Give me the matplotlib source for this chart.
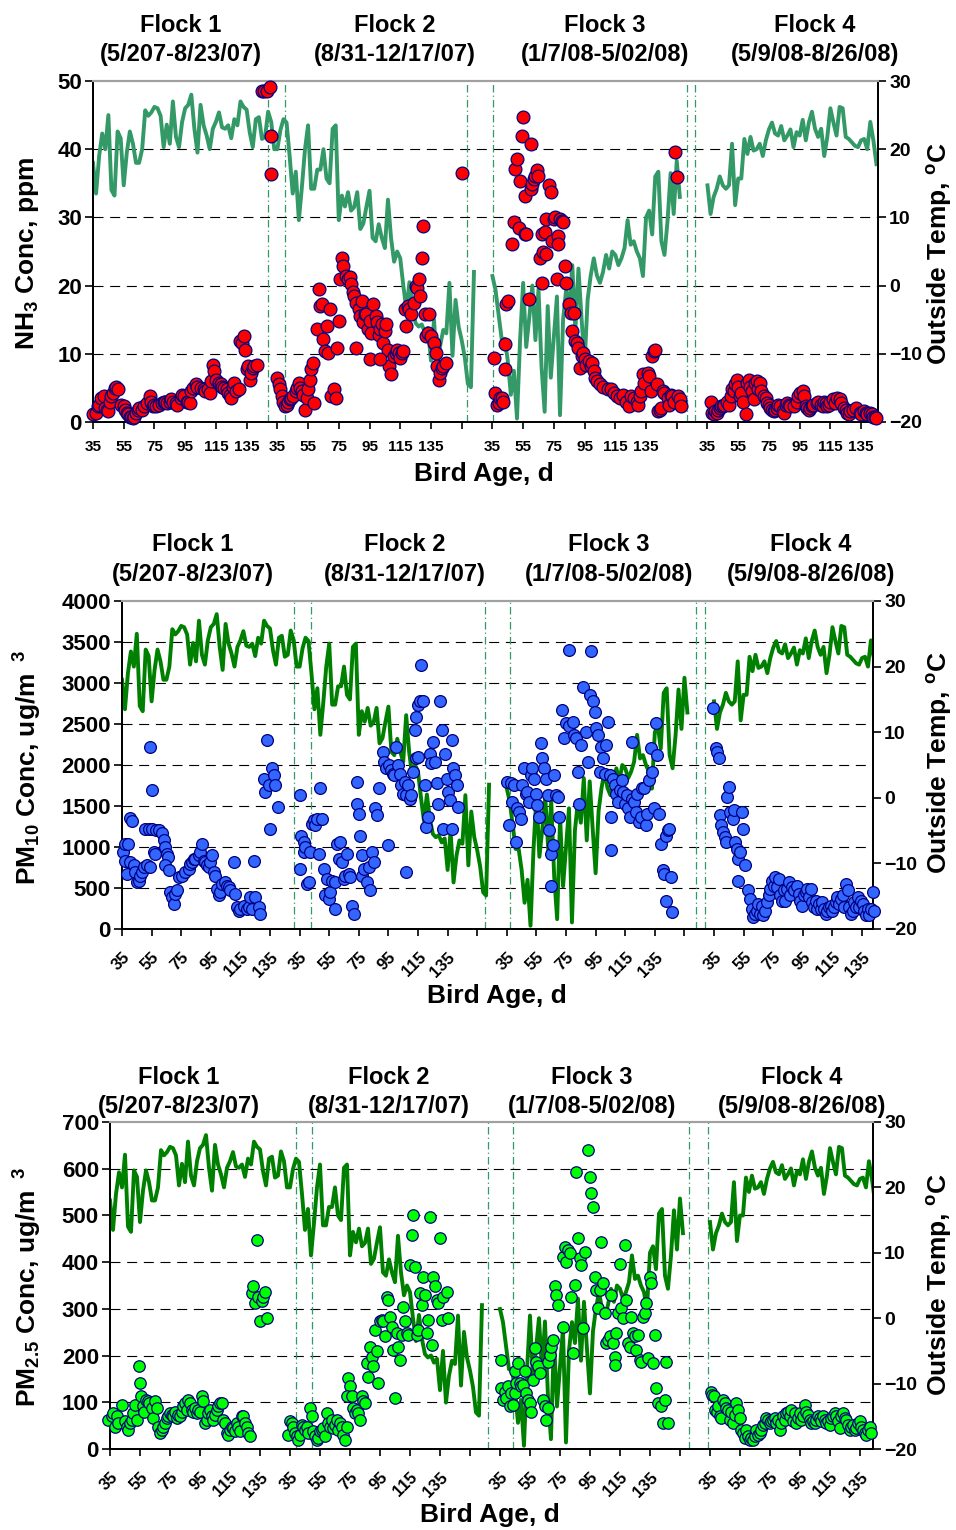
import numpy as np
import matplotlib.pyplot as plt

plt.rcParams['font.family'] = 'Liberation Sans'
plt.rcParams['font.weight'] = 'bold'
plt.rcParams['mathtext.fontset'] = 'custom'
plt.rcParams['mathtext.rm'] = 'Liberation Sans:bold'
plt.rcParams['mathtext.bf'] = 'Liberation Sans:bold'
plt.rcParams['mathtext.it'] = 'Liberation Sans:bold'

# day index of bird age 35 for each flock on the shared x axis
flock_start = [0, 120, 260, 400]
tick_ages = [35, 55, 75, 95, 115, 135]
flock_names = ['Flock 1', 'Flock 2', 'Flock 3', 'Flock 4']
flock_dates = ['(5/207-8/23/07)', '(8/31-12/17/07)', '(1/7/08-5/02/08)', '(5/9/08-8/26/08)']

# outside temperature, deg C, every 2nd day index
temp_a = [18.0, 13.5, 19.0, 22.3, 20.0, 25.0, 14.0, 13.2, 22.6, 21.6, 14.7, 19.5, 22.6, 20.8, 18.0,
          18.0, 20.0, 25.7, 24.9, 25.4, 26.2, 26.0, 24.9, 20.3, 23.6, 20.8, 27.0, 21.8, 20.3, 24.0,
          26.0, 26.5, 28.0, 23.0, 19.5, 26.5, 23.5, 22.0, 20.0, 23.0, 24.0, 25.4, 23.2, 23.0, 23.5,
          21.6, 24.4, 23.5, 27.0, 26.2, 25.8, 22.5, 20.3, 24.4, 24.7, 21.5, 21.8, 25.5, 24.0, 20.0,
          20.0, 22.8, 24.4, 23.9, 19.0, 13.5, 16.7, 9.6, 14.5, 20.0, 23.5, 14.2, 14.2, 17.0, 17.0,
          20.0, 15.7, 15.0, 23.0, 23.5, 9.6, 13.2, 11.6, 13.7, 11.0, 11.5, 13.7, 8.3, 9.1, 11.6,
          13.9, 7.0, 6.5, 9.0, 7.0, 5.5, 12.6, 7.0, 3.5, 5.0, 4.0, 0.0, -3.5, 0.5, -3.2,
          -5.5, -6.0, -5.7, -6.8, -6.2, -11.0, -5.0, -12.9, -8.8, -6.5, -7.0, 0.4, -10.3, -2.1, -6.0,
          -8.0, -10.5, -14.4, -14.9, 2.0]
temp_b = [1.4, -0.6, -4.2, -7.8, -7.8, -11.0, -16.0, -12.5, -19.5, -8.0, 0.4, -9.0, -4.7, 0.0, -8.0,
          -0.5, -12.0, -18.5, -3.0, -13.5, -7.5, -1.6, -19.0, -5.0, -0.6, -3.8, 3.0, -6.5, 2.5, -4.7,
          -11.5, -2.0, 1.5, 4.0, 1.5, 0.4, 2.0, 4.5, 2.5, 5.0, 4.5, 3.0, 4.0, 5.5, 9.6,
          6.0, 6.5, 5.0, 4.0, 1.4, 10.0, 11.0, 7.5, 16.0, 16.7, 6.5, 4.5, 9.5, 16.5, 10.5,
          18.3, 13.0]
temp_c = [14.7, 10.5, 13.0, 14.2, 16.0, 14.7, 14.2, 14.7, 20.8, 11.8, 15.7, 15.7, 21.5, 19.3, 21.8,
          19.8, 20.0, 20.8, 19.0, 21.3, 22.9, 23.9, 22.3, 22.0, 23.4, 21.3, 22.0, 22.9, 20.3, 22.5,
          22.0, 24.3, 21.3, 23.9, 25.5, 23.0, 21.8, 23.0, 19.0, 21.8, 26.0, 23.9, 22.0, 26.2, 26.0,
          21.8, 21.5, 21.0, 20.5, 20.3, 21.3, 21.5, 20.0, 24.0, 21.3, 17.8]
temp_start = [0, 260, 400]

# NH3, ppm (bird age, value) per flock
nh3_f1_age = [35, 37, 38, 39, 40, 42, 43, 44, 45, 46, 47, 48, 49, 50, 51, 53, 55, 56, 57, 58, 59, 60,
              61, 62, 63, 64, 65, 67, 68, 70, 72, 73, 74, 75, 76, 78, 80, 81, 82, 83, 85, 86, 87, 89,
              90, 92, 93, 94, 96, 97, 98, 99, 100, 102, 103, 105, 107, 108, 110, 111, 112, 113, 114,
              115, 117, 118, 119, 120, 122, 123, 124, 125, 126, 127, 128, 130, 131, 132, 133, 134,
              135, 136, 137, 138, 139, 140, 142, 145, 146, 148, 150, 151, 151]
nh3_f1 = [1.1, 1.3, 2.3, 2.5, 3.5, 3.8, 2.1, 1.8, 1.6, 3.0, 3.8, 4.3, 5.0, 5.2, 4.8, 2.5, 2.3, 1.8, 1.3,
          1.1, 0.8, 0.8, 0.6, 0.8, 1.3, 1.8, 2.1, 1.8, 2.3, 2.8, 3.8, 3.0, 2.3, 2.5, 2.3, 2.5, 2.8, 3.0,
          3.0, 2.8, 3.0, 3.3, 3.0, 2.8, 2.5, 3.5, 4.0, 3.8, 3.0, 3.0, 2.8, 4.5, 5.0, 5.5, 5.2, 5.0, 4.8,
          4.5, 4.8, 4.3, 6.0, 8.4, 7.5, 6.2, 5.7, 5.5, 5.2, 5.0, 4.8, 4.3, 4.0, 3.5, 5.2, 5.7, 4.5, 4.8,
          11.9, 11.6, 12.6, 10.6, 7.7, 8.2, 6.2, 7.2, 7.9, 8.2, 8.4, 48.6, 48.6, 48.6, 49.1, 42.0, 36.4]
nh3_f2_age = [35, 36, 37, 38, 39, 40, 41, 42, 43, 44, 45, 47, 48, 49, 50, 51, 52, 53, 54, 55, 56, 57,
              58, 59, 61, 62, 63, 64, 65, 66, 67, 68, 69, 70, 72, 73, 74, 75, 76, 77, 78, 80, 81,
              82, 83, 84, 85, 86, 88, 89, 90, 91, 92, 93, 94, 95, 96, 97, 99, 100, 101, 102, 103, 104,
              105, 106, 107, 108, 109, 111, 112, 113, 114, 115, 116, 117, 118, 119, 120, 121, 122, 124,
              125, 126, 127, 128, 129, 130, 131, 132, 133, 134, 135, 137, 138, 139, 140, 141, 142, 143,
              145, 155, 86, 95, 102]
nh3_f2 = [6.5, 5.5, 4.8, 3.8, 3.0, 2.3, 2.5, 3.0, 3.3, 3.5, 3.8, 4.5, 5.0, 5.7, 5.0, 4.5, 4.0, 1.8, 3.5,
          4.8, 6.2, 7.7, 8.7, 2.8, 13.6, 19.5, 17.0, 17.3, 12.1, 10.4, 14.1, 10.1, 16.5, 3.8, 4.8, 3.5,
          10.9, 14.8, 20.9, 24.1, 22.9, 21.4, 20.9,
          21.2, 20.2, 19.0, 18.5, 17.5, 16.5, 15.5, 17.7, 14.6, 15.8, 15.8, 13.6, 14.8, 13.1, 17.3, 15.5,
          14.6, 12.8, 13.6, 14.3, 11.6, 13.3, 14.3, 10.6, 8.2, 7.0, 9.7, 10.1, 10.6, 10.1, 9.4, 10.1,
          10.4, 16.5, 14.1, 17.0, 16.5, 15.8, 17.5, 20.0, 19.7, 20.9, 18.5, 24.1, 28.8, 15.8, 12.6, 13.1,
          15.8, 12.6, 11.6, 10.1, 8.2, 6.2, 7.2, 7.9, 8.2, 8.7, 36.5, 10.9, 9.2, 9.2]
nh3_f3_age = [36, 37, 38, 39, 40, 41, 42, 43, 43, 44, 45, 48, 49, 50, 51, 52, 53, 54, 55, 56, 56, 57,
              59, 60, 60, 61, 62, 63, 64, 65, 66, 67, 67, 68, 69, 70, 72, 73, 70, 74, 75, 76, 77, 78,
              78, 79, 80, 81, 82, 83, 85, 86, 87, 88, 89, 90, 91, 92, 93, 94, 95, 96, 98, 99, 100, 101,
              102, 103, 105, 107, 110, 112, 114, 116, 118, 120, 122, 124, 125, 127, 129, 130, 131, 132,
              133, 134, 136, 137, 138, 139, 140, 141, 142, 143, 144, 145, 146, 147, 149, 150, 151, 152,
              153, 154, 155, 156, 157, 158]
nh3_f3 = [9.4, 4.3, 2.5, 2.8, 3.5, 3.5, 3.0, 7.7, 11.4, 17.3, 17.7, 26.1, 29.3, 37.1, 38.6, 28.5, 35.4,
          42.0, 44.7, 27.5, 33.2, 27.5, 18.0, 40.8, 34.2, 34.9, 35.6, 36.1, 36.9, 36.1, 24.1, 20.4, 27.5,
          24.9, 27.8, 24.6, 34.7, 33.7, 29.8, 26.6, 29.8, 30.0, 20.9, 27.3, 26.1, 29.8, 29.5, 29.3, 22.9,
          20.4, 17.3, 16.0, 13.3, 16.0, 11.9, 11.6, 10.9, 7.9, 9.7, 10.1, 9.2, 8.4, 8.9, 8.2, 8.7, 7.5,
          6.5, 6.0, 5.5, 5.2, 4.8, 4.8, 4.3, 3.8, 3.5, 4.0, 3.0, 2.3, 3.8, 3.5, 3.0, 2.5, 3.8, 4.5, 7.0,
          5.7, 7.2, 6.7, 4.5, 9.7, 10.4, 10.6, 5.5, 1.6, 1.8, 2.1, 4.5, 4.3, 3.5, 2.5, 4.0, 3.8, 3.0,
          39.6, 35.9, 3.8, 3.3, 2.3]
nh3_f4_age = [37, 38, 39, 40, 41, 42, 43, 44, 45, 46, 48, 49, 50, 51, 52, 53, 54, 55, 56, 57, 58, 60,
              61, 62, 63, 64, 65, 66, 67, 68, 69, 70, 72, 73, 74, 75, 76, 77, 78, 79, 80, 81, 82, 84,
              85, 86, 87, 88, 89, 91, 93, 94, 95, 97, 98, 99, 100, 101, 102, 103, 104, 106, 107, 109,
              110, 111, 112, 113, 114, 115, 117, 118, 119, 121, 122, 124, 125, 126, 127, 128, 130, 132,
              134, 135, 137, 138, 139, 141, 142, 143, 144, 145]
nh3_f4 = [3.0, 1.3, 1.1, 1.6, 1.3, 1.8, 2.1, 2.3, 2.3, 2.5, 3.0, 2.5, 3.8, 4.8, 4.5, 5.5, 6.2, 5.2, 3.8,
          4.3, 3.0, 1.1, 5.7, 6.2, 5.2, 4.5, 3.3, 5.7, 6.0, 4.8, 5.7, 4.5, 3.8, 3.5, 2.8, 2.5, 2.1, 1.8,
          1.6, 1.8, 2.1, 2.5, 2.3, 1.6, 1.3, 2.5, 2.8, 2.5, 2.3, 2.3, 3.0, 3.8, 4.3, 4.5, 3.8, 2.3, 2.1,
          1.8, 2.1, 2.3, 2.5, 2.8, 3.0, 2.5, 2.3, 3.0, 2.8, 2.3, 2.5, 3.0, 3.3, 2.8, 3.5, 3.3, 2.8, 2.1,
          1.8, 1.3, 1.1, 1.6, 1.8, 2.1, 1.3, 1.1, 1.6, 1.3, 1.1, 1.3, 1.1, 0.8, 0.8, 0.6]

# PM10, ug/m3
pm10_f1_age = [35.5, 37.3, 39.1, 36.8, 38.4, 40.2, 41.8, 40.6, 42.9, 44, 45.1, 46.3, 47.4, 48.5, 49.6,
               51.9, 54.1, 54.1, 55.3, 50.8, 53, 55.3, 58, 59.8, 62, 63.2, 64.3, 65.4, 66.1, 64.3, 66.5,
               56.4, 57.5, 67.7, 68.8, 69.9, 71, 72.2, 73.3, 75.5, 77.8, 80.1, 81.2, 82.3, 83.4, 84.6,
               86.8, 87.9, 89.1, 90.2, 91.3, 92.4, 93.6, 94.7, 95.8, 96.9, 98.1, 99.2, 100.3, 101.4,
               102.6, 104.8, 106, 107.1, 108.2, 110.5, 111.6, 112.7, 113.8, 115, 117.2, 119.5, 120.6,
               121.7, 122.8, 124, 125.1, 127.3, 128.5, 130.7, 131.9, 133, 134.1, 135.2, 136.4, 137.5,
               138.6, 140.4]
pm10_f1 = [940, 1040, 1040, 835, 675, 1350, 1320, 815, 775, 695, 570, 590, 650, 695, 755, 775, 755, 2225,
           1695, 1225, 1225, 1225, 1205, 1205, 1165, 1080, 1000, 920, 880, 775, 715, 940, 920, 450, 390,
           305, 430, 470, 630, 650, 695, 735, 795, 815, 855, 855, 900, 940, 1040, 835, 815, 775, 755, 815,
           900, 695, 650, 490, 410, 450, 550, 570, 530, 510, 470, 815, 430, 265, 225, 245, 285, 245, 265,
           390, 245, 835, 390, 265, 185, 1835, 1675, 2305, 1755, 1225, 1960, 1875, 1755, 1490]
pm10_f2_age = [35.5, 35, 36.2, 37.7, 37.7, 38.9, 40, 41.1, 42.3, 43.4, 44.5, 45.6, 46.8, 47.9, 49, 50.1,
               51.3, 52.4, 53.5, 54.6, 55.8, 56.9, 59.1, 59.1, 60.3, 61.4, 62.5, 63.6, 64.8, 65.9, 67,
               68.2, 69.3, 70.4, 71.5, 73.8, 73.8, 74.9, 76, 77.2, 77.2, 78.3, 80.5, 81.7, 82.8, 83.9,
               85, 86.2, 87.3, 88.4,
               91.1, 92.3, 93.4, 95.7, 96.8, 98, 99.1, 100.2, 101.4, 102.5, 103.6, 104.8, 105.9, 107,
               108.2, 109.3, 110.5, 111.6, 112.7, 113.9, 115, 116.1, 117.3, 118.4, 113.9, 115, 119.5,
               120.7, 121.8, 123, 124.1, 125.2, 126.4, 127.5, 128.6, 129.8, 130.9, 132, 133.2, 134.3,
               135.5, 136.6, 137.7, 137.7, 138.9, 140, 141.1, 142.3, 94.5, 107]
pm10_f2 = [1630, 735, 1140, 1060, 940, 1000, 550, 570, 940, 1285, 1325, 1265, 1345, 920, 1720, 1345, 735,
           410, 610, 365, 450, 590, 245, 570, 1040, 855, 1060, 815, 610, 650, 920, 675, 630, 285, 185,
           1795, 1530, 1405, 1140, 900, 650, 735, 570, 755, 470, 940, 815, 1470, 1385, 1715,
           2160, 2040, 1960, 2000, 1940, 1895, 1875, 2225, 2000, 1895, 1755, 1650, 1795, 1630, 1755,
           1590, 1630, 1920, 2430, 2590, 2735, 2780, 3220, 2775, 2080, 2100, 1755, 1245, 1365, 2140,
           2020, 2285, 2040, 1775, 1530, 2780, 2430, 1225, 2140, 1835, 1675, 1570, 1225, 2305, 1960,
           1875, 1755, 1490, 1020, 695]
pm10_f3_age = [35.2, 36.4, 37.5, 38.6, 39.8, 40.9, 42, 43.2, 44.3, 45.5, 46.6, 47.7, 48.9, 50, 51.1,
               52.3, 53.4, 54.5, 55.7, 56.8, 58, 59.1, 60.2, 61.4, 62.5, 63.6, 64.8, 65.9, 64.8, 67,
               68.2, 69.3, 70.5, 72.3, 73.9, 75, 77.3, 77.3, 79.5, 80.7, 81.8, 83, 84.1, 85.2, 86.4,
               88.6, 89.8, 90.9, 92, 93.2, 94.3, 95.5, 96.6, 97.7, 98.9, 100, 101.1, 102.3, 103.4,
               104.5, 105.7, 105.7, 106.8, 108, 109.1, 110.2, 111.4, 112.5, 113.6, 114.8, 115.9, 117,
               118.2, 119.3, 119.8, 120.9, 122, 123.1, 124.3, 125.5, 126.6, 127.7, 128.9, 130, 131.1,
               132.3, 133.4, 134.5, 135.7, 136.8, 138, 139.1, 140.2, 141.4, 142.5, 143.6, 144.8, 145.9,
               142.5, 146.6]
pm10_f3 = [1795, 1265, 1775, 1550, 1755, 1060, 1470, 1430, 1345, 1755, 1960, 1650, 1675, 1550, 1875, 1960,
           1835, 1650, 1510, 1365, 2265, 2080, 1960, 1835, 1630, 1205, 920, 1020, 530, 1875, 1630, 1610,
           1365, 2670, 2325, 2510, 3405, 2470, 2530, 2365, 2325, 1920, 1530, 2245, 2955, 2405, 2040, 2855,
           3385, 2775, 2650, 2450, 2365, 1920, 2225, 2080, 1895, 2245, 2530, 1875, 1365, 960, 1835, 1755,
           1650, 1550, 1695, 1815, 1675, 1530, 1630, 1470, 1365, 1590, 2285, 1550, 1430, 1650, 1305,
           1365, 1715, 1715, 1265, 1405, 1815, 2205, 1920, 1470, 2510, 2120, 1405, 1040, 715, 675, 1140,
           1205, 1225, 630, 345, 205]
pm10_f4_age = [34.3, 36.1, 37, 38.4, 39.3, 40, 41.1, 42.3, 43, 43.9, 45.2, 46.1, 47.5, 48.4, 49.1, 50.2,
               51.4, 52.5, 53.6, 54.8, 51.4, 55.9, 58.2, 59.3, 60.5, 61.6, 62.7, 63.9, 65, 66.1, 67.3,
               68.4, 69.6, 70.7, 71.8, 73, 74.1, 75.2, 76.4, 77.5, 78.6, 79.8, 80.9, 82, 83.2, 84.3,
               85.5, 86.6, 87.7, 88.9, 91.1, 92.3, 93.4, 94.5, 95.7, 96.8, 98, 99.1, 100.2, 101.4,
               102.5, 103.6, 104.8, 105.9, 107, 108.2, 109.3, 110.5, 111.6, 112.7, 113.9, 115, 116.1,
               117.3, 118.4, 119.5, 120.7, 121.8, 123, 124.1, 125.2, 126.4, 127.5, 128.6, 129.8, 130.9,
               132, 133.2, 134.3, 135.5, 136.6, 137.7, 138.9, 140, 141.1, 142.3, 143.4]
pm10_f4 = [2690, 2205, 2160, 2090, 1385, 1265, 1185, 1120, 1060, 1610, 1735, 1430, 1345, 1450, 1060, 980,
           855, 940, 1430, 1225, 590, 775, 470, 365, 245, 145, 185, 225, 305, 185, 285, 165, 225, 325,
           410, 490, 590, 530, 630, 510, 610, 410, 345, 470, 345, 490, 570, 410, 510, 470, 530, 430, 345,
           285, 410, 450, 490, 390, 490, 325, 265, 345, 245, 305, 245, 325, 245, 185, 225, 265, 285, 225,
           265, 325, 390, 305, 365, 410, 265, 550, 470, 265, 185, 225, 325, 265, 390, 265, 345, 305, 225,
           165, 245, 165, 245, 450, 225]

# PM2.5, ug/m3
pm25_f1_age = [33.9, 36.1, 37.2, 38.3, 39.4, 40.6, 42.8, 45, 46.1, 47.2, 48.3, 49.4, 50.6, 51.7, 52.8,
               54.6, 55, 55.4, 56.8, 57.9, 59, 60.1, 61.2, 62.8, 63.9, 65, 66.1, 67.2, 68.3, 69.4, 70.6,
               71.7, 72.8, 73.9, 75, 76.1, 77.2, 78.3, 79.4, 80.6, 81.7, 82.8, 83.9, 85, 86.1, 87.2,
               88.3, 89.4, 90.6, 91.7, 92.8, 93.9, 95, 96.1, 97.2, 98.3, 99.4, 100.6, 101.7, 102.8,
               103.9, 105, 106.1, 107.2, 108.3, 109.4, 110.6, 111.7, 112.8, 113.9, 115, 116.1, 117.2,
               118.3, 119.4, 120.6, 121.7, 122.8, 123.9, 125, 126.1, 127.2, 128.3, 129.4, 130.6, 131.7,
               132.8, 133.9, 135, 136.1, 137.2, 138.3, 139.4]
pm25_f1 = [63, 70, 77, 48, 70, 56, 95, 59, 48, 41, 56, 63, 77, 95, 63, 178, 141, 113, 91, 80, 105, 102, 98,
           88, 66, 102, 88, 48, 34, 41, 48, 56, 66, 70, 77, 73, 70, 80, 66, 73, 70, 80, 91, 98, 84, 105, 98,
           84, 80, 88, 77, 84, 80, 113, 102, 56, 63, 77, 84, 70, 63, 73, 84, 91, 98, 98, 63, 56, 34, 31,
           41, 48, 45, 38, 56, 48, 38, 70, 70, 56, 48, 34, 27, 333, 348, 312, 447, 326, 273, 316, 326, 337,
           280]
pm25_f2_age = [33.9, 35, 36.1, 37.2, 38.3, 39.4, 40.6, 41.7, 42.8, 43.9, 45, 46.1, 47.2, 48.3, 49.4, 50.6,
               51.7, 52.8, 53.9, 55, 56.1, 57.2, 58.3, 59.4, 60.6, 61.7, 62.8, 63.9, 65, 66.1, 67.2,
               68.3, 69.4, 70.6, 71.7, 72.8, 73.9, 75, 72.8, 76.1, 77.2, 78.3, 79.4, 80.6, 81.7, 82.8,
               83.9, 85, 86.1, 87.2, 88.3, 89.4, 90.6, 91.7, 92.8, 93.9, 95, 96.1, 97.2, 98.3, 99.4,
               100.6, 101.7, 102.8, 103.9, 105, 106.1, 107.2, 108.3, 109.4, 110.6, 111.7, 112.8, 113.9,
               115, 116.1, 117.2, 118.3, 119.4, 120.6, 121.7, 122.8, 123.9, 125, 126.1, 127.2, 128.3,
               129.4, 130.6, 131.7, 132.8, 133.9, 135, 136.1, 137.2, 139.4, 140.6]
pm25_f2 = [31, 59, 56, 48, 34, 27, 20, 31, 52, 48, 41, 48, 34, 88, 70, 38, 27, 20, 24, 38, 41, 45, 27, 77,
           56, 48, 63, 45, 52, 63, 41, 56, 48, 31, 20, 48, 152, 134, 113, 113, 88, 77, 84, 77, 63, 113, 102,
           98, 184, 155, 219, 198, 177, 255, 209, 141, 273, 276, 273, 241, 326, 319, 283, 262, 212, 109,
           248, 219, 191, 244, 305, 273, 248, 244, 394, 458, 501, 390, 244, 255, 333, 308, 369, 330, 248,
           276, 497, 223, 369, 348, 319, 312, 451, 276, 326, 337, 280]
pm25_f3_age = [35.4, 35.9, 37, 38.1, 39.2, 40.3, 41.4, 42.6, 43.7, 44.8, 44.8, 45.9, 47, 48.1, 49.2, 50.3,
               51.4, 52.6, 53.7, 54.8, 55.9, 57, 58.1, 59.2, 60.3, 61.4, 63.7, 64.8, 65.9, 67, 67, 68.1,
               69.2, 70.3, 71.4, 72.6, 73.7, 77, 77, 78.1, 79.2, 80.3, 81.4, 82.6, 83.7, 84.8, 85.9, 87,
               88.1, 89.2, 90.3, 91.4, 93.7, 94.8, 95.9, 97, 98.1, 99.2, 100.3, 101.4, 102.6, 103.7,
               104.8, 105.9, 107, 108.1, 109.2, 110.3, 111.4, 111.4, 112.6, 113.7, 114.8, 115.9, 117,
               118.1, 119.2, 120.3, 121.4, 122.6, 123.7, 124.8, 125.9, 127, 128.1, 129.2, 130.3, 131.4,
               132.6, 133.7, 134.8, 135.9, 137, 138.1, 139.2, 140.3, 142.6, 143.7, 144.8, 145.9, 147]
pm25_f3 = [191, 130, 105, 123, 109, 134, 91, 120, 95, 120, 166, 141, 184, 141, 134, 137, 166, 120, 105, 98,
           80, 148, 216, 187, 177, 162, 105, 91, 63, 88, 187, 202, 219, 234, 348, 330, 308, 262, 412, 433,
           401, 427, 419, 326, 205, 351, 593, 451, 408, 394, 259, 422, 640, 583, 547, 519, 369, 340, 301,
           340, 444, 355, 291, 226, 234, 241, 330, 226, 198, 180, 248, 291, 397, 301, 280, 437, 319, 226,
           219, 283, 248, 241, 212, 244, 191, 187, 283, 291, 312, 194, 369, 355, 184, 244, 130, 98, 91, 56,
           105, 187, 56]
pm25_f4_age = [35.4, 36.6, 37.7, 38.6, 39.4, 40.3, 41.4, 42.6, 43.7, 44.8, 45.9, 47, 48.1, 49.2, 50.3,
               51.4, 52.6, 53.7, 54.8, 55.9, 57, 58.1, 59.2, 60.3, 61.4, 62.6, 63.7, 64.8, 65.9, 67,
               68.1, 69.2, 70.3, 71.4, 72.6, 73.7, 74.8, 75.9, 77, 78.1, 79.2, 80.3, 81.4, 82.6, 83.7,
               84.8, 85.9, 87, 88.1, 89.2, 90.3, 91.4, 92.6, 93.7, 94.8, 95.9, 97, 98.1, 99.2, 100.3,
               101.4, 102.6, 103.7, 104.8, 105.9, 107, 108.1, 109.2, 110.3, 111.4, 112.6, 113.7, 114.8,
               115.9, 117, 118.1, 119.2, 120.3, 121.4, 122.6, 123.7, 124.8, 125.9, 127, 128.1, 129.2,
               130.3, 131.4, 132.6, 133.7, 134.8, 135.9, 137, 138.1, 139.2, 140.3, 141.4, 142.6]
pm25_f4 = [123, 116, 113, 84, 80, 91, 70, 66, 105, 98, 88, 84, 63, 80, 56, 73, 98, 84, 66, 41, 34, 24, 41,
           27, 20, 24, 20, 27, 41, 31, 34, 41, 52, 56, 66, 63, 56, 59, 63, 66, 56, 63, 41, 56, 70, 63, 77,
           80, 70, 84, 59, 77, 56, 66, 77, 63, 70, 95, 80, 73, 63, 56, 59, 56, 63, 70, 66, 59, 70, 63, 56,
           59, 52, 66, 70, 77, 70, 59, 45, 70, 77, 66, 63, 52, 41, 48, 52, 41, 45, 56, 59, 48, 41, 34, 31,
           41, 48, 34]

# flock boundary markers (day index) as drawn in each panel
vlines_nh3 = [113.8, 124.9, 243.4, 260.4, 386.6, 391.8]
vlines_pm10 = [116, 127.7, 245, 262, 388, 393.7]
vlines_pm25 = [124, 134.9, 251.8, 268.5, 385.8, 398.9]

W, H = 956, 1530
fig = plt.figure(figsize=(W / 100, H / 100), dpi=100)


def xpos(f, ages):
    return flock_start[f] + np.asarray(ages, dtype=float) - 35


def draw_panel(rect, groups, ymax, ystep, face, size, tcolor, tlw, vlines, xmax, rot, xfs, xpad):
    ax = fig.add_axes(rect)
    axt = ax.twinx()
    ax.set_zorder(axt.get_zorder() + 1)
    ax.patch.set_visible(False)

    for v in np.arange(ystep, ymax, ystep):
        axt.axhline(-20 + 50 * v / ymax, color='black', lw=0.8, ls=(0, (9, 6)), zorder=0)
    for xv in vlines:
        axt.axvline(xv, color='#339966', lw=0.9, ls=(0, (6, 2.5, 1, 2.5)), zorder=1)
    for start, seg in zip(temp_start, [temp_a, temp_b, temp_c]):
        axt.plot(start + 2 * np.arange(len(seg)), seg, color=tcolor, lw=tlw, zorder=2)

    for f, (ages, vals) in enumerate(groups):
        ax.scatter(xpos(f, ages), vals, s=size, c=face, edgecolors='#000080',
                   linewidths=0.9, zorder=3, clip_on=False)

    ax.set_xlim(0, xmax)
    ax.set_ylim(0, ymax)
    axt.set_ylim(-20, 30)
    ax.set_yticks(np.arange(0, ymax + 1, ystep))
    axt.set_yticks(np.arange(-20, 31, 10))

    xt = np.arange(0, 501, 20)
    lab = []
    for t in xt:
        f = max(i for i in range(4) if flock_start[i] <= t)
        age = 35 + t - flock_start[f]
        lab.append(str(age) if age in tick_ages else '')
    ax.set_xticks(xt)
    if rot:
        ax.set_xticklabels(lab, rotation=45, ha='right', rotation_mode='anchor', fontsize=xfs)
    else:
        ax.set_xticklabels(lab, fontsize=xfs)

    ax.tick_params(axis='y', labelsize=16, length=6, width=1.2, pad=2)
    axt.tick_params(axis='y', labelsize=14, length=6, width=1.2, pad=2)
    ax.tick_params(axis='x', length=5, width=1.2, pad=xpad)
    for a in (ax, axt):
        for s in ('left', 'right', 'bottom'):
            a.spines[s].set_linewidth(1.3)
        a.spines['top'].set_color('#a0a0a0')
        a.spines['top'].set_linewidth(1.5)
    return ax


draw_panel([93 / W, 1 - 422 / H, 785 / W, 341 / H],
           [(nh3_f1_age, nh3_f1), (nh3_f2_age, nh3_f2), (nh3_f3_age, nh3_f3), (nh3_f4_age, nh3_f4)],
           50, 10, '#ff0000', 85, '#339966', 2.8, vlines_nh3, 511, False, 11, 8)
draw_panel([122 / W, 1 - 929 / H, 751 / W, 328 / H],
           [(pm10_f1_age, pm10_f1), (pm10_f2_age, pm10_f2), (pm10_f3_age, pm10_f3), (pm10_f4_age, pm10_f4)],
           4000, 500, '#3366ff', 72, '#008000', 2.8, vlines_pm10, 507.4, True, 12, 10)
draw_panel([110 / W, 1 - 1449 / H, 763 / W, 327 / H],
           [(pm25_f1_age, pm25_f1), (pm25_f2_age, pm25_f2), (pm25_f3_age, pm25_f3), (pm25_f4_age, pm25_f4)],
           700, 100, '#00ff00', 68, '#008000', 2.8, vlines_pm25, 508.7, True, 12, 10)


def ftext(x, y, s, **kw):
    fig.text(x / W, 1 - y / H, s, ha='center', va='center', fontweight='bold', **kw)


title_x = [[181, 395, 605, 815], [193, 405, 609, 811], [179, 389, 592, 802]]
title_y = [(25, 55), (544, 574), (1077, 1107)]
for xs, (y1, y2) in zip(title_x, title_y):
    for i in range(4):
        ftext(xs[i], y1, flock_names[i], fontsize=17)
        ftext(xs[i], y2, flock_dates[i], fontsize=17)

ftext(28, 253, r'NH$_{\mathbf{3}}$ Conc, ppm', fontsize=19, rotation=90)
ftext(28, 768, r'PM$_{\mathbf{10}}$ Conc, ug/m$^{\mathbf{\ \ 3}}$', fontsize=19, rotation=90)
ftext(28, 1287, r'PM$_{\mathbf{2.5}}$ Conc, ug/m$^{\mathbf{\ \ 3}}$', fontsize=19, rotation=90)
for yc in (253, 762, 1284):
    ftext(940, yc, r'Outside Temp, $^{\mathbf{o}}$C', fontsize=19, rotation=90)
ftext(484, 474, 'Bird Age, d', fontsize=19)
ftext(497, 996, 'Bird Age, d', fontsize=19)
ftext(490, 1515, 'Bird Age, d', fontsize=19)

plt.savefig('out.png', dpi=100)
